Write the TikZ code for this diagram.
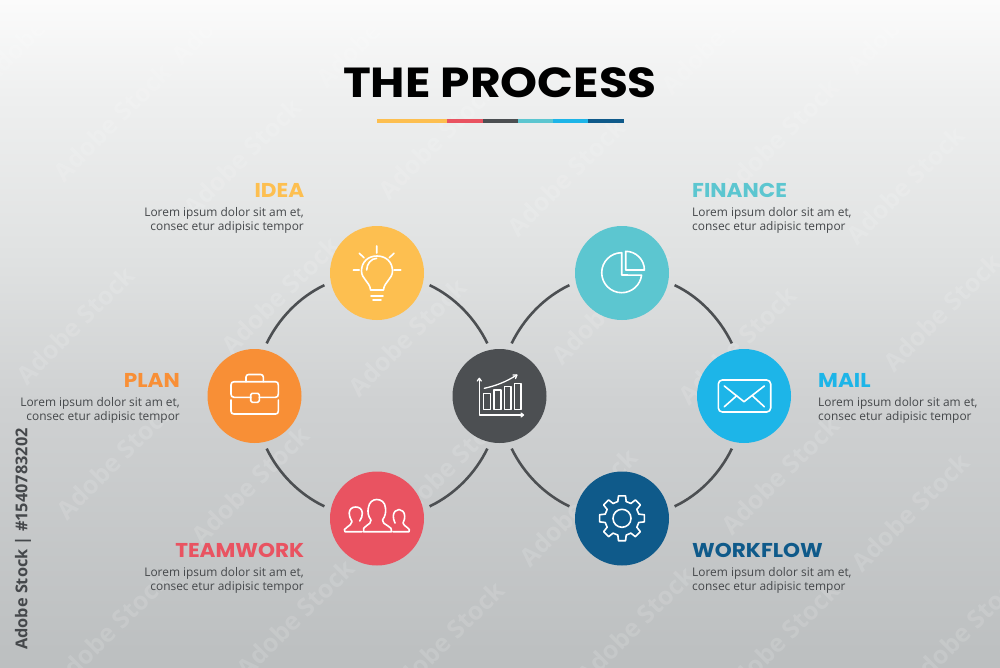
\documentclass[tikz,border=0pt]{standalone}
\usepackage{fontspec}
\setmainfont{Open Sans}
\newfontfamily\popt[FakeStretch=1.12]{Poppins}
\newfontfamily\poph[FakeStretch=1.08]{Poppins}
\definecolor{cIdea}{HTML}{FDBF50}
\definecolor{cPlan}{HTML}{F88F36}
\definecolor{cTeam}{HTML}{E95361}
\definecolor{cHub}{HTML}{4C4F52}
\definecolor{cFin}{HTML}{5CC6D0}
\definecolor{cMail}{HTML}{1DB5E8}
\definecolor{cFlow}{HTML}{0F5A8A}
\definecolor{cText}{HTML}{45484B}
\definecolor{bgA}{HTML}{BCBFC0}
\definecolor{bgB}{HTML}{CFD1D2}
\definecolor{bgC}{HTML}{E0E2E2}
\definecolor{bgD}{HTML}{EEEFEF}
\definecolor{bgE}{HTML}{FBFBFB}
\pgfdeclareverticalshading{bgshade}{100bp}{
 color(0bp)=(bgA);
 color(25bp)=(bgA);
 color(45bp)=(bgB);
 color(56bp)=(bgC);
 color(67.5bp)=(bgD);
 color(75bp)=(bgE);
 color(100bp)=(bgE)}
\tikzset{
 hub/.style={circle,minimum size=94pt,inner sep=0pt,outer sep=7pt,fill=#1,draw=none},
 link/.style={draw=cHub,line width=2.6pt},
 ico/.style={draw=white,line width=1.6pt,line cap=round,line join=round},
 head/.style={font=\poph\bfseries\fontsize{20}{20}\selectfont,text=#1,inner sep=0pt},
 body/.style={font=\fontsize{11.9}{14}\selectfont,text=cText,inner sep=0pt},
 wm/.style={font=\bfseries\fontsize{25}{25}\selectfont,text=white,opacity=0.13,rotate=45,inner sep=0pt}
}
\newcommand{\lorem}{Lorem ipsum dolor sit am et,\\consec etur adipisic tempor}
\newcommand{\ringarcs}[4]{%
 \draw[link] (#1.-13) to[out=-25.5,in=116,looseness=0.87] (#2.103);
 \draw[link] (#2.257) to[out=-116,in=25.5,looseness=0.87] (#3.13);
 \draw[link] (#3.167) to[out=154.5,in=-64,looseness=0.87] (#4.-77);
 \draw[link] (#4.77) to[out=64,in=205.5,looseness=0.87] (#1.193);}
\begin{document}
\begin{tikzpicture}[x=1pt,y=-1pt]
\useasboundingbox (0,0) rectangle (1000,667);
\shade[shading=bgshade] (0,0) rectangle (1000,667);
% watermarks
\foreach \i/\px/\py in {1/40/25,2/112/122,3/242/157,4/375/28,5/437/140,6/566/177,7/720/35,8/780/137,9/905/185,10/905/15,11/75/325,12/280/295,13/407/337,14/610/305,15/737/345,16/942/312,17/115/460,18/250/485,19/450/465,20/578/507,21/780/475,22/910/512,23/110/630,24/295/618,25/445/640,26/635/625,27/780/640,28/965/630,29/230/5}
  \node[wm] (wm\i) at (\px,\py) {Adobe Stock};
% title
\node[font=\popt\bfseries\fontsize{42}{42}\selectfont,text=black,inner sep=0pt] (title) at (500,83) {THE PROCESS};
\fill[cIdea] (377,118.5) rectangle (447,122.7);
\fill[cTeam] (447,118.5) rectangle (483,122.7);
\fill[cHub] (483,118.5) rectangle (518,122.7);
\fill[cFin] (518,118.5) rectangle (553,122.7);
\fill[cMail] (553,118.5) rectangle (588,122.7);
\fill[cFlow] (588,118.5) rectangle (624,122.7);
% hubs
\node[hub=cIdea] (idea) at (377,273) {};
\node[hub=cPlan] (plan) at (254.5,396) {};
\node[hub=cTeam] (team) at (377,518.5) {};
\node[hub=cHub] (center) at (499.5,396) {};
\node[hub=cFin] (fin) at (622,273) {};
\node[hub=cMail] (mail) at (744,396) {};
\node[hub=cFlow] (flow) at (622,518.5) {};
\ringarcs{idea}{center}{team}{plan}
\ringarcs{fin}{mail}{flow}{center}
% labels
\node[head=cIdea,anchor=east] (lIdea) at (304.5,190) {IDEA};
\node[body,anchor=north east,align=right] (bIdea) at (304,207) {\lorem};
\node[head=cPlan,anchor=east] (lPlan) at (180,380) {PLAN};
\node[body,anchor=north east,align=right] (bPlan) at (180,397) {\lorem};
\node[head=cTeam,anchor=east] (lTeam) at (304.5,550) {TEAMWORK};
\node[body,anchor=north east,align=right] (bTeam) at (304,567) {\lorem};
\node[head=cFin,anchor=west] (lFin) at (692,190) {FINANCE};
\node[body,anchor=north west,align=left] (bFin) at (692,207) {\lorem};
\node[head=cMail,anchor=west] (lMail) at (818,380) {MAIL};
\node[body,anchor=north west,align=left] (bMail) at (818,397) {\lorem};
\node[head=cFlow,anchor=west] (lFlow) at (692,550) {WORKFLOW};
\node[body,anchor=north west,align=left] (bFlow) at (692,567) {\lorem};
% bulb
\draw[ico] (370.5,290) .. controls (370,282) and (361.5,279) .. (361.5,271) .. controls (361.5,262) and (368,256) .. (377,256) .. controls (386,256) and (392.5,262) .. (392.5,271) .. controls (392.5,279) and (384,282) .. (383.5,290) -- cycle;
\draw[ico] (366.7,270) .. controls (366.7,264) and (371,258.5) .. (376.7,258.3);
\draw[ico] (371,296) -- (383,296) (373,300) -- (381,300);
\draw[ico] (376.7,246) -- (376.7,253) (359.3,253.3) -- (364,257.7) (394,253.3) -- (389.3,257.7) (353.3,270) -- (359.3,270) (394,270) -- (400.7,270);
% briefcase
\draw[ico] (250.7,397.3) -- (234,397.3) .. controls (232,397.3) and (231,396) .. (231,394) -- (231,385) .. controls (231,383) and (232,381.7) .. (234,381.7) -- (275.5,381.7) .. controls (277.5,381.7) and (278.3,383) .. (278.3,385) -- (278.3,394) .. controls (278.3,396) and (277.5,397.3) .. (275.5,397.3) -- (259.3,397.3);
\draw[ico] (231,400) -- (231,411) .. controls (231,413) and (232,414) .. (234,414) -- (275.5,414) .. controls (277.5,414) and (278.3,413) .. (278.3,411) -- (278.3,400);
\draw[ico,rounded corners=1.5pt] (250.7,393.3) rectangle (259.3,402.3);
\draw[ico,rounded corners=2.5pt] (246,381.7) -- (246,374.5) -- (263.3,374.5) -- (263.3,381.7);
% team
\draw[ico] (363.5,531.7) .. controls (361,526) and (372,525) .. (371,520) .. controls (368,516) and (367.5,512) .. (368.3,508) .. controls (369,502) and (373,499.5) .. (376.7,499.5) .. controls (381,499.5) and (385,502) .. (385.5,508) .. controls (386,512) and (385.5,516) .. (382.5,520) .. controls (381.5,525) and (393.5,526) .. (391.7,531.7) -- cycle;
\draw[ico] (362,531.7) -- (345,531.7) .. controls (341,529) and (352,526) .. (352,521.5) .. controls (350,518) and (349,515) .. (349.2,513) .. controls (349.5,509) and (352,507) .. (355.7,507) .. controls (359.5,507) and (362,509) .. (362.3,513) .. controls (362.5,516) and (361.5,518) .. (359.7,521);
\draw[ico] (393,531.7) -- (409,531.7) .. controls (412,529) and (403,526) .. (403,523) .. controls (404.5,520) and (404.8,518) .. (404.7,516) .. controls (404.5,512) and (402,509.5) .. (399,509.5) .. controls (396,509.5) and (393.5,512) .. (393.3,516) .. controls (393.2,518) and (394,521) .. (395,523);
% centre chart
\draw[ico,line width=1.3pt] (479.3,380) -- (479.3,415) -- (522,415);
\draw[ico,line width=1.3pt] (477.3,381) -- (479.3,378.3) -- (481.3,381) (521,413) -- (523.5,415) -- (521,417);
\draw[ico,line width=1.3pt] (483.3,393.3) rectangle (490.7,409.3) (494,390) rectangle (501,409.3) (504.3,386.7) rectangle (511,409.3) (514.3,383.3) rectangle (521,409.3);
\draw[ico,line width=1.3pt] (484.3,388.3) .. controls (495,386) and (506,382) .. (516.7,375);
\draw[ico,line width=1.3pt] (513,375) -- (516.9,375) -- (515.5,378.5);
% pie
\draw[ico] (621.7,252.7) arc[start angle=90,end angle=353,radius=20pt] -- (621.7,275) -- cycle;
\draw[ico] (625.7,270) -- (625.7,251.3) arc[start angle=90,end angle=0,radius=18.7pt] -- cycle;
% envelope
\draw[ico,rounded corners=4pt] (718.3,380) rectangle (770.7,412);
\draw[ico] (724.3,386) -- (744,401.7) -- (764.3,386) (724.3,406.7) -- (736.7,395.7) (764.3,406.7) -- (752.3,395.7);
% gear
\coordinate (gearc) at (622,518.3);
\begin{scope}[shift={(gearc)}]
\foreach \a in {0,45,...,315}
  \draw[ico] (\a-14:17.3pt) -- (\a-9:22.7pt) -- (\a+9:22.7pt) -- (\a+14:17.3pt) -- (\a+31:17.3pt);
\draw[ico] (0,0) circle[radius=9pt];
\end{scope}
% id strip
\node[font=\bfseries\fontsize{16.3}{16.3}\selectfont,text=cText,rotate=90,anchor=west,inner sep=0pt] (stockid) at (23,650) {Adobe Stock | \#1540783202};
\end{tikzpicture}
\end{document}
